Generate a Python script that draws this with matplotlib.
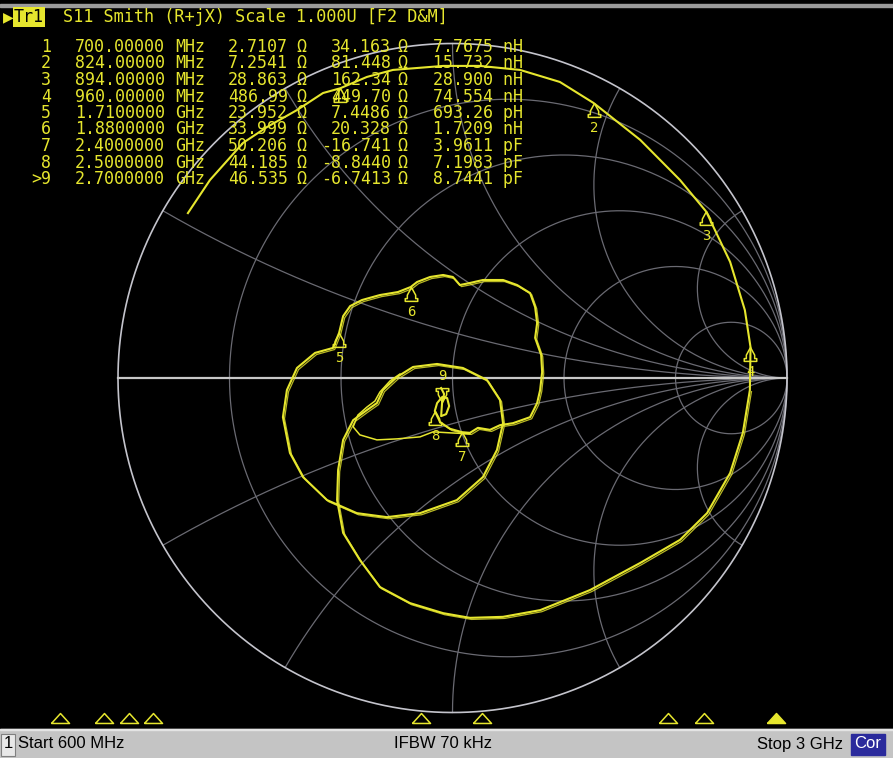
import numpy as np
import matplotlib
matplotlib.use("Agg")
import matplotlib.pyplot as plt
import matplotlib.transforms as mtransforms
from matplotlib.patches import Rectangle
from matplotlib.path import Path

# ---- marker table ----
mk_label = ["1", "2", "3", "4", "5", "6", "7", "8", ">9"]
mk_freq = [700.0, 824.0, 894.0, 960.0, 1710.0, 1880.0, 2400.0, 2500.0, 2700.0]  # MHz
mk_r = [2.7107, 7.2541, 28.863, 486.99, 23.952, 33.999, 50.206, 44.185, 46.535]
mk_x = [34.163, 81.448, 162.34, 449.70, 7.4486, 20.328, -16.741, -8.8440, -6.7413]
mk_lc = ["7.7675 nH", "15.732 nH", "28.900 nH", "74.554 nH", "693.26 pH",
         "1.7209 nH", "3.9611 pF", "7.1983 pF", "8.7441 pF"]
active = 8

f_start, f_stop = 600.0, 3000.0
z0 = 50.0

tr_re = [-0.791, -0.725, -0.626, -0.555, -0.465, -0.387, -0.336, -0.256, -0.178, -0.028,
         0.082, 0.202, 0.321, 0.422, 0.561, 0.680, 0.758, 0.830, 0.874, 0.891,
         0.889, 0.868, 0.830, 0.761, 0.680, 0.561, 0.411, 0.262, 0.151, 0.052,
         -0.028, -0.127, -0.217, -0.277, -0.327, -0.345, -0.342, -0.327, -0.297, -0.256,
         -0.226, -0.208, -0.166, -0.118, -0.046, 0.031, 0.103, 0.142, 0.151, 0.133,
         0.091, 0.013, -0.097, -0.196, -0.286, -0.375, -0.447, -0.486, -0.507, -0.495,
         -0.465, -0.411, -0.357, -0.339, -0.327, -0.306, -0.271, -0.217, -0.163, -0.125,
         -0.106, -0.067, -0.028, 0.001, 0.022, 0.052, 0.091, 0.151, 0.193, 0.232,
         0.247, 0.253, 0.247, 0.265, 0.268, 0.262, 0.253, 0.232, 0.181, 0.142,
         0.112, 0.076, 0.052, 0.029, -0.007, -0.037, -0.053, -0.046, -0.031, -0.016,
         -0.010, -0.019, -0.034, -0.031, -0.025, -0.034]
tr_im = [0.493, 0.592, 0.703, 0.750, 0.801, 0.852, 0.866, 0.900, 0.921, 0.933,
         0.933, 0.921, 0.885, 0.822, 0.712, 0.592, 0.498, 0.347, 0.203, 0.092,
         -0.036, -0.164, -0.284, -0.404, -0.484, -0.553, -0.634, -0.694, -0.714, -0.717,
         -0.703, -0.673, -0.625, -0.544, -0.463, -0.365, -0.275, -0.185, -0.126, -0.096,
         -0.075, -0.036, 0.003, 0.033, 0.042, 0.030, -0.006, -0.066, -0.135, -0.215,
         -0.296, -0.365, -0.404, -0.416, -0.404, -0.365, -0.296, -0.224, -0.117, -0.036,
         0.030, 0.075, 0.090, 0.135, 0.185, 0.215, 0.233, 0.248, 0.257, 0.272,
         0.287, 0.302, 0.308, 0.302, 0.278, 0.284, 0.293, 0.293, 0.278, 0.254,
         0.212, 0.164, 0.120, 0.069, 0.018, -0.036, -0.075, -0.117, -0.135, -0.141,
         -0.155, -0.149, -0.164, -0.162, -0.152, -0.132, -0.099, -0.075, -0.057, -0.060,
         -0.084, -0.108, -0.114, -0.072, -0.048, -0.030]

# memory trace where it leaves the data trace
mem_re = [0.052, -0.007, -0.058, -0.097, -0.166, -0.226, -0.277, -0.297, -0.283, -0.256,
          -0.232, -0.217, -0.187, -0.157]
mem_im = [-0.167, -0.164, -0.161, -0.176, -0.182, -0.185, -0.170, -0.146, -0.111, -0.087,
          -0.069, -0.042, -0.009, 0.012]

# grid: resistance circles and reactance arcs (arcs meet the rim every 30 deg)
r_grid = [0.2, 0.5, 1, 2, 5]
x_grid = [0.268, 0.577, 1, 1.732, 3.732]

YEL = "#e6e62e"
GRID = "#6a6a72"
W, H = 893, 758
cx, cy, R = 452.5, 378.0, 334.5   # chart centre / radius in pixels

fig = plt.figure(figsize=(W / 100, H / 100), dpi=100, facecolor="black")
ax = fig.add_axes([0, 0, 1, 1])
ax.set_facecolor("black")
ax.set_xlim(-cx / R, (W - cx) / R)
ax.set_ylim((cy - H) / R, cy / R)
ax.axis("off")

# smith grid
t = np.linspace(0, 2 * np.pi, 500)
for r in r_grid:
    c, rad = r / (1 + r), 1 / (1 + r)
    ax.plot(c + rad * np.cos(t), rad * np.sin(t), color=GRID, lw=0.9, zorder=1)
rr = np.concatenate([[0], np.logspace(-3, 3, 600)])
for xv in x_grid:
    for s in (1, -1):
        zz = rr + 1j * s * xv
        g = (zz - 1) / (zz + 1)
        ax.plot(g.real, g.imag, color=GRID, lw=0.9, zorder=1)
ax.plot(np.cos(t), np.sin(t), color="#c4c4cc", lw=1.2, zorder=2)
ax.plot([-1, 1], [0, 0], color="#c8c8c8", lw=1.6, zorder=2)

# traces (second, slightly shifted copy gives the doubled look of the screen)
shift = mtransforms.offset_copy(ax.transData, fig=fig, x=1.6, y=-1.6, units="dots")
ax.plot(tr_re[20:96], tr_im[20:96], color=YEL, lw=0.9, alpha=0.8, zorder=3, transform=shift)
ax.plot(mem_re, mem_im, color=YEL, lw=1.1, zorder=3)
ax.plot(tr_re, tr_im, color=YEL, lw=1.5, zorder=4)

# markers on the chart
zm = (np.array(mk_r) + 1j * np.array(mk_x)) / z0
gm = (zm - 1) / (zm + 1)
up = Path([(0, 0), (-0.3, -0.55), (-0.3, -0.8), (-0.45, -0.8), (-0.45, -1), (0.45, -1),
           (0.45, -0.8), (0.3, -0.8), (0.3, -0.55), (0, 0)])
down = Path([(x, -y) for x, y in up.vertices])
for i, g in enumerate(gm):
    lab = mk_label[i].replace(">", "")
    if i == active:
        ax.plot(g.real, g.imag, marker=down, ms=20, mfc="none", mec=YEL, mew=1.1, zorder=5)
        ax.annotate(lab, (g.real, g.imag), xytext=(0, 19), textcoords="offset points",
                    ha="center", va="center", color=YEL, fontsize=10, family="DejaVu Sans Mono")
    else:
        ax.plot(g.real, g.imag, marker=up, ms=20, mfc="none", mec=YEL, mew=1.1, zorder=5)
        if i > 0:   # label of marker 1 sits under the table text
            ax.annotate(lab, (g.real, g.imag), xytext=(0, -18), textcoords="offset points",
                        ha="center", va="center", color=YEL, fontsize=10,
                        family="DejaVu Sans Mono")

# header
def px(x, y):
    return x / W, 1 - y / H

fig.patches.append(Rectangle(px(0, 7), 1, 3 / H, transform=fig.transFigure, color="#9a9a9a"))
fig.text(*px(3, 17), "\u25b6", color=YEL, fontsize=10, va="center", ha="left")
fig.text(*px(14, 17), "Tr1", color="black", fontsize=12, va="center", ha="left",
         family="DejaVu Sans Mono",
         bbox=dict(boxstyle="square,pad=0.08", fc=YEL, ec="none"))
fig.text(*px(63, 17), "S11 Smith (R+jX) Scale 1.000U [F2 D&M]", color=YEL, fontsize=12.2,
         va="center", ha="left", family="DejaVu Sans Mono")

# marker table
for i in range(len(mk_freq)):
    y = 47 + 16.5 * i
    f = mk_freq[i]
    if f >= 1000:
        ftxt, unit = f"{f / 1000:.7f}", "GHz"
    else:
        ftxt, unit = f"{f:.5f}", "MHz"
    kw = dict(color=YEL, fontsize=12, va="center", family="DejaVu Sans Mono")
    fig.text(*px(51, y), mk_label[i], ha="right", **kw)
    fig.text(*px(75, y), ftxt, ha="left", **kw)
    fig.text(*px(175, y), unit, ha="left", **kw)
    fig.text(*px(288, y), f"{mk_r[i]:#.5g}", ha="right", **kw)
    fig.text(*px(296, y), "\u03a9", ha="left", **kw)
    fig.text(*px(391, y), f"{mk_x[i]:#.5g}", ha="right", **kw)
    fig.text(*px(397, y), "\u03a9", ha="left", **kw)
    fig.text(*px(433, y), mk_lc[i], ha="left", **kw)

# frequency position of markers along the bottom
bx = fig.add_axes([24 / W, 1 - 726 / H, (883 - 24) / W, 16 / H])
bx.set_xlim(f_start, f_stop)
bx.set_ylim(0, 1)
bx.axis("off")
tri = Path([(-1, -0.55), (1, -0.55), (0, 0.55), (-1, -0.55)])
for i, f in enumerate(mk_freq):
    bx.plot(f, 0.5, marker=tri, ms=13, mfc=YEL if i == active else "none", mec=YEL, mew=1.1)

# status bar
fig.patches.append(Rectangle((0, 0), 1, 29 / H, transform=fig.transFigure, color="#c4c4c4"))
fig.patches.append(Rectangle((0, 28 / H), 1, 1.5 / H, transform=fig.transFigure, color="#e4e4e4"))
fig.patches.append(Rectangle(px(1, 756), 14 / W, 22 / H, transform=fig.transFigure,
                             fc="#e8e8e8", ec="#808080", lw=0.8))
fig.patches.append(Rectangle(px(851, 755), 34 / W, 21 / H, transform=fig.transFigure,
                             color="#2a2a9c"))
sb = dict(color="black", fontsize=12, va="center", family="Liberation Sans")
fig.text(*px(8, 744), "1", ha="center", **sb)
fig.text(*px(18, 744), "Start 600 MHz", ha="left", **sb)
fig.text(*px(443, 744), "IFBW 70 kHz", ha="center", **sb)
fig.text(*px(843, 744), "Stop 3 GHz", ha="right", **sb)
fig.text(*px(868, 744), "Cor", ha="center", **dict(sb, color="white"))

fig.savefig("out.png", dpi=100, facecolor="black")
